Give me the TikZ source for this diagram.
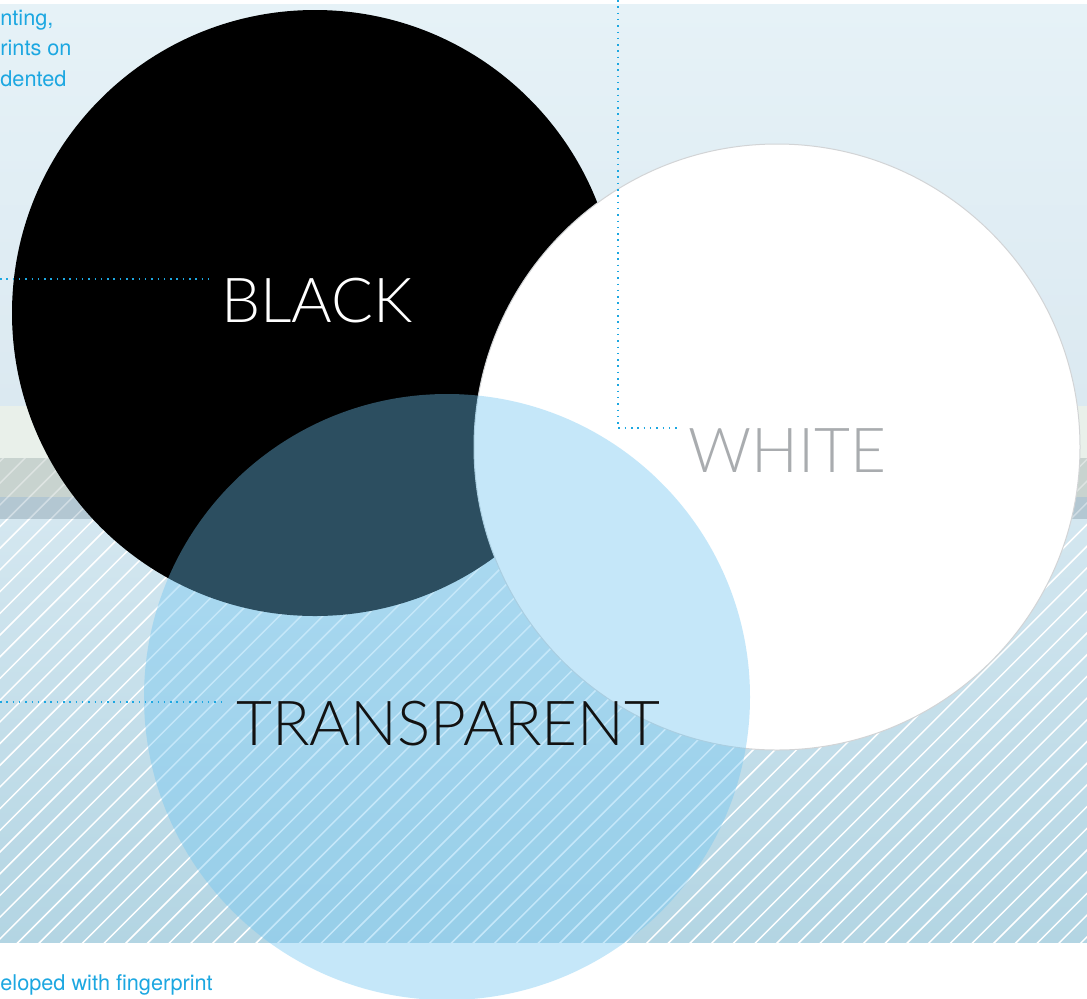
\documentclass[tikz,border=0pt]{standalone}
\usepackage{fontspec}
\usepackage{tikz}
\usetikzlibrary{calc,positioning}

\IfFontExistsTF{Lato Light}{\newfontfamily\thinfont{Lato Light}}{\newfontfamily\thinfont{Lato}}
\newfontfamily\notefont{TeX Gyre Heros}

\definecolor{leadcyan}{HTML}{1CA7E1}
\definecolor{topblue}{HTML}{E6F2F7}
\definecolor{topblue2}{HTML}{DBE9F1}
\definecolor{paleband}{HTML}{E9F0EA}
\definecolor{grayband}{HTML}{C8D3CF}
\definecolor{blueband}{HTML}{B3C7D2}
\definecolor{hatchtop}{HTML}{D4E7F0}
\definecolor{hatchbot}{HTML}{B3D5E3}
\definecolor{glass}{RGB}{110,197,242}
\definecolor{whitelabel}{HTML}{A9ACAF}
\definecolor{rimgray}{HTML}{D2D4D6}

\begin{document}
\begin{tikzpicture}[x=0.5pt,y=-0.5pt]
	\tikzstyle{disc} = [circle, minimum size=303pt, inner sep=0pt]
	\tikzstyle{ringname} = [anchor=north west, inner sep=0pt, font=\thinfont\fontsize{31}{31}\selectfont]
	\tikzstyle{sidenote} = [anchor=base west, inner sep=0pt, text=leadcyan, font=\notefont\fontsize{10.85}{13}\selectfont]
	\tikzstyle{leadline} = [leadcyan, line width=0.75pt, dash pattern=on 0.75pt off 2.4pt]
	\tikzstyle{hatchline} = [white, line width=0.75pt]

	\useasboundingbox (0,0) rectangle (1087,998);
	\fill[white] (0,0) rectangle (1087,998);
	\shade[top color=topblue, bottom color=topblue2] (0,4) rectangle (1087,406);
	\fill[paleband] (0,406) rectangle (1087,458);
	\fill[grayband] (0,458) rectangle (1087,497);
	\fill[blueband] (0,497) rectangle (1087,519);
	\shade[top color=hatchtop, bottom color=hatchbot] (0,519) rectangle (1087,942);

	% hatching, faint over the bands
	\begin{scope}
	\clip (0,458) rectangle (1087,519);
	\foreach \k in {-59,...,15}
		\draw[hatchline, opacity=0.4] ({1720+21.7*\k},0) -- ({1720+21.7*\k-1000},1000);
	\end{scope}
	\begin{scope}
	\clip (0,519) rectangle (1087,942);
	\foreach \k in {-59,...,15}
		\draw[hatchline] ({1720+21.7*\k},0) -- ({1720+21.7*\k-1000},1000);
	\end{scope}

\node[disc, fill=black] (black) at (315,313) {};
\node[disc, fill=white, draw=rimgray, line width=0.5pt] (white) at (777,447) {};
\node[disc, fill=glass, fill opacity=0.4] (glass) at (447,697) {};

\node[ringname, text=white] (blacktag) at (221,278) {BLACK};
\node[ringname, text=whitelabel] (whitetag) at (688,428) {WHITE};
\node[ringname, text=black!93] (glasstag) at (236,701) {TRANSPARENT};

\coordinate (blackfoot) at (0,279);
\coordinate (whitefoot) at (618,0);
\coordinate (glassfoot) at (0,702);

	\draw[leadline, shorten >=4pt] (blackfoot) -- (blackfoot -| blacktag.west);
	\draw[leadline, shorten >=4.5pt] (whitefoot) |- (whitetag.north west);
	\draw[leadline, shorten >=5pt] (glassfoot) -- (glassfoot -| glasstag.west);

\node[sidenote] (note1) at (0,25) {nting,};
\node[sidenote] (note2) at (0,55) {rints on};
\node[sidenote] (note3) at (0,86) {dented};
\node[sidenote] (note4) at (0,990) {eloped with fingerprint};
\end{tikzpicture}
\end{document}
